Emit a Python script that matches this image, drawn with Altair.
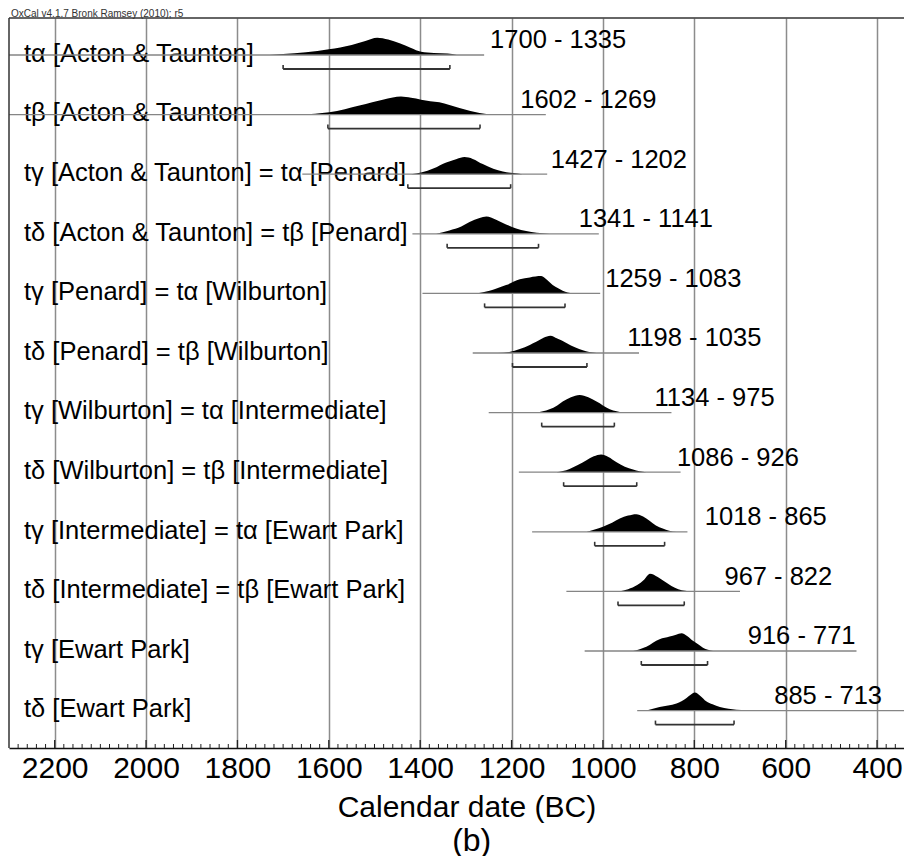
import altair as alt
import pandas as pd

# ---------------- data ----------------
header = "OxCal v4.1.7 Bronk Ramsey (2010); r5"
x_title = "Calendar date (BC)"
caption = "(b)"

labels = [
    "tα [Acton & Taunton]",
    "tβ [Acton & Taunton]",
    "tγ [Acton & Taunton] = tα [Penard]",
    "tδ [Acton & Taunton] = tβ [Penard]",
    "tγ [Penard] = tα [Wilburton]",
    "tδ [Penard] = tβ [Wilburton]",
    "tγ [Wilburton] = tα [Intermediate]",
    "tδ [Wilburton] = tβ [Intermediate]",
    "tγ [Intermediate] = tα [Ewart Park]",
    "tδ [Intermediate] = tβ [Ewart Park]",
    "tγ [Ewart Park]",
    "tδ [Ewart Park]",
]

range_from = [1700, 1602, 1427, 1341, 1259, 1198, 1134, 1086, 1018, 967, 916, 885]
range_to = [1335, 1269, 1202, 1141, 1083, 1035, 975, 926, 865, 822, 771, 713]

# extent of each distribution's thin baseline (years BC)
line_from = [2300, 2300, 1658, 1417, 1395, 1285, 1250, 1184, 1155, 1080, 1040, 925]
line_to = [1260, 1125, 1122, 1009, 1006, 921, 850, 830, 815, 700, 445, 300]

# posterior densities (relative height, 1 = tallest)
dens_years = [
    [1730, 1700, 1650, 1600, 1550, 1520, 1494, 1470, 1445, 1420, 1398, 1370, 1340, 1320],
    [1664, 1630, 1599, 1565, 1533, 1505, 1482, 1460, 1442, 1420, 1398, 1378, 1358, 1336, 1314, 1290, 1270, 1248],
    [1420, 1398, 1370, 1343, 1320, 1303, 1285, 1263, 1240, 1219, 1197, 1176],
    [1365, 1336, 1310, 1292, 1270, 1255, 1235, 1212, 1190, 1168, 1145, 1131, 1117],
    [1277, 1248, 1230, 1212, 1182, 1160, 1135, 1122, 1110, 1098, 1088, 1066],
    [1230, 1205, 1182, 1160, 1146, 1130, 1115, 1100, 1080, 1060, 1044, 1030, 1014],
    [1146, 1117, 1100, 1088, 1070, 1051, 1032, 1014, 1000, 985, 970, 956],
    [1102, 1073, 1055, 1036, 1020, 1004, 988, 971, 952, 934, 920, 905],
    [1036, 1000, 980, 963, 945, 927, 912, 898, 884, 869, 855, 839],
    [965, 945, 925, 910, 897, 880, 865, 850, 835, 820, 805],
    [934, 905, 876, 854, 840, 828, 815, 803, 790, 781, 770, 759],
    [905, 876, 839, 817, 808, 799, 786, 774, 760, 744, 725, 708, 664],
]
dens_rel = [
    [0, .06, .15, .32, .56, .78, .96, .86, .65, .39, .18, .11, .08, 0],
    [0, .05, .13, .30, .50, .68, .83, .95, 1.0, .93, .83, .74, .68, .53, .37, .20, .09, 0],
    [0, .09, .33, .65, .85, .95, .85, .56, .30, .15, .06, 0],
    [0, .18, .40, .65, .88, .96, .80, .52, .30, .15, .06, .03, 0],
    [0, .15, .30, .46, .78, .89, .96, .74, .46, .28, .15, 0],
    [0, .06, .22, .45, .62, .85, .96, .80, .56, .30, .15, .06, 0],
    [0, .18, .40, .61, .85, .98, .85, .61, .40, .18, .07, 0],
    [0, .18, .40, .67, .88, .98, .85, .57, .30, .15, .05, 0],
    [0, .28, .50, .74, .90, .98, .85, .61, .35, .18, .06, 0],
    [0, .12, .35, .65, .98, .80, .55, .30, .12, .04, 0],
    [0, .24, .65, .80, .90, .98, .82, .57, .35, .18, .07, 0],
    [0, .20, .39, .70, .88, 1.0, .80, .52, .35, .20, .10, .05, 0],
]

x_ticks = [2200, 2000, 1800, 1600, 1400, 1200, 1000, 800, 600, 400]

# ---------------- layout / style ----------------
FONT = "Liberation Sans"
W, H = 895, 730
ROW_PX = 59.6           # vertical distance between rows
FIRST_PX = 37.0         # first row baseline below the top of the plot
PX = 1.0 / ROW_PX
PEAK = 18 * PX          # tallest density height
LABEL_SHIFT_YEARS = 88  # range text starts this far after the range end

n = len(labels)
rows = pd.DataFrame({
    "row": list(range(n)),
    "label": labels,
    "range_from": range_from,
    "range_to": range_to,
    "line_from": line_from,
    "line_to": line_to,
})
rows["range_text"] = [f"{a} - {b}" for a, b in zip(range_from, range_to)]
rows["text_at"] = rows["range_to"] - LABEL_SHIFT_YEARS
rows["bracket_y"] = rows["row"] + 14 * PX
rows["tick_top"] = rows["row"] + 10 * PX

area_records = []
for i, (ys_, hs_) in enumerate(zip(dens_years, dens_rel)):
    for yr, h in zip(ys_, hs_):
        area_records.append({"row": i, "year": yr, "top": i - h * PEAK, "base": i})
area_df = pd.DataFrame(area_records)

ends_df = pd.concat([
    rows[["row", "tick_top", "bracket_y"]].assign(end=rows["range_from"]),
    rows[["row", "tick_top", "bracket_y"]].assign(end=rows["range_to"]),
])

minor_years = [y for y in range(2280, 340, -20) if y % 200 != 0]
ticks_minor = pd.DataFrame({"year": minor_years})
ticks_major = pd.DataFrame({"year": x_ticks})

xs = alt.Scale(domain=[341, 2300], reverse=True, nice=False, zero=False)
ys = alt.Scale(domain=[-FIRST_PX / ROW_PX, (H - FIRST_PX) / ROW_PX], reverse=True, nice=False, zero=False)

xaxis = alt.Axis(
    values=x_ticks, format="d", grid=True, gridColor="#8c8c8c", gridWidth=1.5,
    ticks=False, domain=True, domainColor="#111111", domainWidth=1.5,
    labelFont=FONT, labelFontSize=30, labelColor="#000000", labelPadding=5,
    labelFlush=False, labelOverlap=False,
    title=x_title, titleFont=FONT, titleFontSize=30, titleFontWeight="normal",
    titleColor="#000000", titleX=457.4, titleY=68, titleBaseline="alphabetic",
    titleAlign="center",
)

one = pd.DataFrame({"t": [header], "c": [caption]})

area = alt.Chart(area_df).mark_area(color="black", orient="vertical", interpolate="monotone").encode(
    x=alt.X("year:Q", scale=xs, axis=xaxis),
    y=alt.Y("top:Q", scale=ys, axis=None),
    y2="base:Q",
    detail="row:N",
)

base_lines = alt.Chart(rows).mark_rule(color="#858585", strokeWidth=1.3, clip=True).encode(
    x=alt.X("line_from:Q", scale=xs, axis=xaxis),
    x2="line_to:Q",
    y=alt.Y("row:Q", scale=ys, axis=None),
)

label_text = alt.Chart(rows).mark_text(
    align="left", baseline="alphabetic", dy=6.7, font=FONT, fontSize=25.5, color="#000000"
).encode(
    x=alt.value(15),
    y=alt.Y("row:Q", scale=ys, axis=None),
    text="label:N",
)

range_text = alt.Chart(rows).mark_text(
    align="left", baseline="alphabetic", dy=-6.7, font=FONT, fontSize=25.5, color="#000000"
).encode(
    x=alt.X("text_at:Q", scale=xs, axis=xaxis),
    y=alt.Y("row:Q", scale=ys, axis=None),
    text="range_text:N",
)

brackets = alt.Chart(rows).mark_rule(color="#333333", strokeWidth=1.8).encode(
    x=alt.X("range_from:Q", scale=xs, axis=xaxis),
    x2="range_to:Q",
    y=alt.Y("bracket_y:Q", scale=ys, axis=None),
)

bracket_ends = alt.Chart(ends_df).mark_rule(color="#333333", strokeWidth=1.6).encode(
    x=alt.X("end:Q", scale=xs, axis=xaxis),
    y=alt.Y("tick_top:Q", scale=ys, axis=None),
    y2="bracket_y:Q",
)

minor = alt.Chart(ticks_minor).mark_rule(color="#222222", strokeWidth=1).encode(
    x=alt.X("year:Q", scale=xs, axis=xaxis),
    y=alt.value(H - 4), y2=alt.value(H),
)
major = alt.Chart(ticks_major).mark_rule(color="#222222", strokeWidth=1.3).encode(
    x=alt.X("year:Q", scale=xs, axis=xaxis),
    y=alt.value(H - 8), y2=alt.value(H),
)

left_border = alt.Chart(one).mark_rule(color="#333333", strokeWidth=1.5).encode(
    x=alt.value(0), y=alt.value(0), y2=alt.value(H)
)
top_border = alt.Chart(one).mark_rule(color="#333333", strokeWidth=1.5).encode(
    x=alt.value(0), x2=alt.value(W), y=alt.value(0)
)

head = alt.Chart(one).mark_text(
    align="left", baseline="alphabetic", font=FONT, fontSize=10, color="#333333"
).encode(x=alt.value(2), y=alt.value(-1), text="t:N")

cap = alt.Chart(one).mark_text(
    align="center", baseline="alphabetic", font=FONT, fontSize=32, color="#000000"
).encode(x=alt.value(462.7), y=alt.value(832.5), text="c:N")

chart = alt.layer(
    area, label_text, base_lines, brackets, bracket_ends, range_text,
    minor, major, left_border, top_border, head, cap,
).properties(
    width=W, height=H,
    autosize=alt.AutoSizeParams(type="none"),
    padding={"left": 1, "top": 10, "right": 0, "bottom": 108},
).configure_view(stroke=None)

chart.save("out.html", embed_options={"renderer": "svg", "actions": False})
